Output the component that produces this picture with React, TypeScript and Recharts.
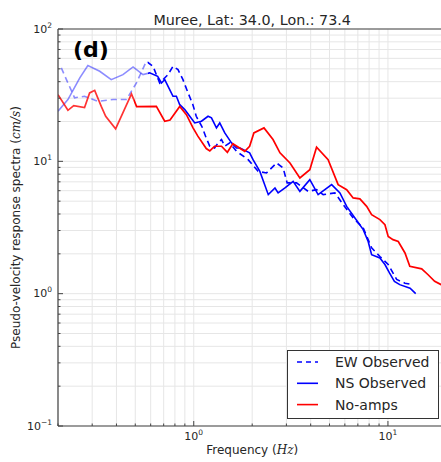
import React from "react";
import { LineChart, Line, XAxis, YAxis, CartesianGrid, Legend } from "recharts";

// EW Observed (dashed)
const ewFreq = [0.208, 0.225, 0.2435, 0.274, 0.321, 0.384, 0.45, 0.507, 0.57, 0.617, 0.668, 0.737, 0.782, 0.83, 0.88, 0.935, 0.99, 1.03, 1.1, 1.16, 1.21, 1.28, 1.335, 1.39, 1.445, 1.533, 1.66, 1.906, 2.145, 2.37, 2.669, 2.886, 3.027, 3.383, 3.883, 4.291, 4.641, 5.33, 5.886, 6.624, 7.46, 8.24, 9.09, 10.03, 11.09, 12.24, 13.5];
const ewAmp = [50.8, 39.1, 30.2, 31.0, 28.4, 29.3, 29.3, 39.1, 57.0, 52.3, 39.1, 45.2, 52.3, 49.3, 41.4, 32.9, 26.8, 21.9, 18.4, 15.0, 13.0, 12.6, 13.8, 14.6, 13.0, 13.8, 11.9, 10.3, 8.4, 8.17, 9.72, 8.92, 6.87, 6.87, 5.93, 6.11, 5.6, 5.77, 4.71, 3.73, 3.14, 2.22, 1.91, 1.66, 1.28, 1.2, 1.17];

// NS Observed
const nsFreq = [0.2, 0.225, 0.259, 0.285, 0.328, 0.376, 0.432, 0.487, 0.548, 0.593, 0.652, 0.682, 0.709, 0.752, 0.782, 0.814, 0.847, 0.899, 0.954, 1.012, 1.096, 1.185, 1.234, 1.309, 1.361, 1.445, 1.564, 1.66, 1.73, 1.94, 2.02, 2.19, 2.42, 2.62, 2.72, 2.95, 3.25, 3.52, 3.96, 4.37, 5.13, 5.66, 6.13, 6.76, 7.46, 7.91, 8.24, 9.09, 9.65, 10.2, 10.8, 11.5, 13.0, 13.9];
const nsAmp = [23.9, 29.3, 42.7, 52.9, 47.9, 41.4, 45.2, 51.7, 45.2, 46.6, 43.9, 39.1, 41.4, 34.8, 31.0, 31.0, 26.8, 24.6, 21.9, 19.5, 20.1, 21.9, 21.3, 17.9, 19.5, 16.4, 13.8, 12.6, 12.6, 11.6, 10.3, 8.4, 5.6, 6.29, 5.77, 6.29, 7.06, 5.93, 7.27, 5.6, 6.67, 5.77, 4.57, 3.73, 3.05, 2.48, 1.97, 1.86, 1.66, 1.43, 1.24, 1.17, 1.1, 1.0];

// No-amps
const noFreq = [0.2, 0.225, 0.241, 0.274, 0.291, 0.309, 0.334, 0.352, 0.396, 0.478, 0.508, 0.642, 0.709, 0.755, 0.847, 0.917, 0.99, 1.05, 1.16, 1.21, 1.28, 1.39, 1.49, 1.59, 1.83, 1.94, 2.04, 2.3, 2.56, 2.78, 3.13, 3.52, 3.96, 4.29, 4.92, 5.54, 6.13, 6.62, 7.17, 7.77, 8.24, 9.09, 9.65, 10.03, 10.62, 11.3, 12.24, 12.96, 14.92, 16.1, 17.4, 18.8, 20];
const noAmp = [31.9, 24.3, 26.4, 25.5, 32.9, 34.4, 26.0, 21.9, 17.6, 32.3, 25.9, 26.0, 20.1, 20.5, 26.0, 22.5, 18.0, 15.5, 12.5, 12.0, 13.0, 13.0, 11.7, 13.6, 11.9, 13.0, 16.4, 17.9, 14.6, 11.6, 9.72, 7.49, 8.65, 12.8, 10.3, 6.67, 6.11, 5.29, 5.2, 4.57, 3.95, 3.63, 3.32, 2.71, 2.56, 2.48, 2.03, 1.61, 1.54, 1.39, 1.24, 1.17, 1.1];

const xTicks = [0.2, 0.3, 0.4, 0.5, 0.6, 0.7, 0.8, 0.9, 1, 2, 3, 4, 5, 6, 7, 8, 9, 10, 20];
const yTicks = [0.1, 0.2, 0.3, 0.4, 0.5, 0.6, 0.7, 0.8, 0.9, 1, 2, 3, 4, 5, 6, 7, 8, 9, 10, 20, 30, 40, 50, 60, 70, 80, 90, 100];

const legendItems = [
  { name: "EW Observed", color: "#0000ff", dash: "5 4" },
  { name: "NS Observed", color: "#0000ff", dash: undefined },
  { name: "No-amps", color: "#ff0000", dash: undefined },
];

const X_MIN = 0.2;
const X_MAX = 20;
const PLOT_LEFT = 58;
const PLOT_RIGHT = 446.4;
const FONT = "'DejaVu Sans', sans-serif";
const TEXT = "#262626";
const SPINE = "#444";

const zip = (f: number[], v: number[]) => f.map((x, i) => ({ f: x, v: v[i] }));
const ewData = zip(ewFreq, ewAmp);
const nsData = zip(nsFreq, nsAmp);
const noData = zip(noFreq, noAmp);

const isMajor = (v: number) => Math.abs(Math.log10(v) - Math.round(Math.log10(v))) < 1e-9;
const expOf = (v: number) => {
  const e = Math.round(Math.log10(v));
  return e < 0 ? "\u2212" + Math.abs(e) : String(e);
};
const frac = (f: number) => (Math.log10(f) - Math.log10(X_MIN)) / (Math.log10(X_MAX) - Math.log10(X_MIN));

const XTick = (props: any) => {
  const { x, y, payload } = props;
  const major = isMajor(payload.value);
  return (
    <g>
      <line x1={x} x2={x} y1={y} y2={y - (major ? 5 : 2.5)} stroke={SPINE} />
      {major && (
        <text x={x} y={y + 14} textAnchor="middle" fontSize={11} fill={TEXT} fontFamily={FONT}>
          10<tspan dy={-5} fontSize={7.5}>{expOf(payload.value)}</tspan>
        </text>
      )}
    </g>
  );
};

const TopTick = (props: any) => {
  const { x, y, payload } = props;
  const major = isMajor(payload.value);
  return <line x1={x} x2={x} y1={y} y2={y + (major ? 5 : 2.5)} stroke={SPINE} />;
};

const YTick = (props: any) => {
  const { x, y, payload } = props;
  const major = isMajor(payload.value);
  return (
    <g>
      <line x1={x} x2={x + (major ? 5 : 2.5)} y1={y} y2={y} stroke={SPINE} />
      {major && (
        <text x={x - 6} y={y + 3.5} textAnchor="end" fontSize={11} fill={TEXT} fontFamily={FONT}>
          10<tspan dy={-5} fontSize={7.5}>{expOf(payload.value)}</tspan>
        </text>
      )}
    </g>
  );
};

const renderLegend = () => (
  <svg width={152} height={69}>
    <rect x={0.5} y={0.5} width={151} height={68} fill="#fff" stroke="#333" />
    {legendItems.map((it, i) => (
      <g key={it.name}>
        <line x1={10} x2={31} y1={12 + i * 21.3} y2={12 + i * 21.3} stroke={it.color} strokeWidth={1.6} strokeDasharray={it.dash} />
        <text x={48} y={17 + i * 21.3} fontSize={14} fill={TEXT} fontFamily={FONT}>{it.name}</text>
      </g>
    ))}
  </svg>
);

export default function App() {
  const blueCut = frac(0.58);
  const redCut = frac(0.49);
  return (
    <div style={{ position: "absolute", left: 0, top: 0, width: 441, height: 462, overflow: "hidden", background: "#fff" }}>
      <LineChart width={460} height={462} margin={{ top: 28, right: 460 - PLOT_RIGHT, bottom: 0, left: 0 }}>
        <defs>
          <linearGradient id="blueFade" gradientUnits="userSpaceOnUse" x1={PLOT_LEFT} x2={PLOT_RIGHT} y1={0} y2={0}>
            <stop offset={0} stopColor="#0000ff" stopOpacity={0.45} />
            <stop offset={blueCut} stopColor="#0000ff" stopOpacity={0.45} />
            <stop offset={blueCut} stopColor="#0000ff" stopOpacity={1} />
            <stop offset={1} stopColor="#0000ff" stopOpacity={1} />
          </linearGradient>
          <linearGradient id="redFade" gradientUnits="userSpaceOnUse" x1={PLOT_LEFT} x2={PLOT_RIGHT} y1={0} y2={0}>
            <stop offset={0} stopColor="#ff0000" stopOpacity={0.8} />
            <stop offset={redCut} stopColor="#ff0000" stopOpacity={0.8} />
            <stop offset={redCut} stopColor="#ff0000" stopOpacity={1} />
            <stop offset={1} stopColor="#ff0000" stopOpacity={1} />
          </linearGradient>
        </defs>
        <CartesianGrid stroke="#e6e6e6" strokeWidth={1} />
        <XAxis
          dataKey="f"
          type="number"
          scale="log"
          domain={[X_MIN, X_MAX]}
          ticks={xTicks}
          interval={0}
          allowDataOverflow
          height={36}
          tickSize={0}
          tickMargin={0}
          tick={<XTick />}
          axisLine={{ stroke: SPINE, strokeWidth: 1.2 }}
          label={{
            content: (p: any) => {
              const vb = p.viewBox;
              return (
                <text x={vb.x + vb.width / 2} y={454} textAnchor="middle" fontSize={12} fill={TEXT} fontFamily={FONT}>
                  Frequency (<tspan fontStyle="italic" fontFamily="'DejaVu Serif', serif">Hz</tspan>)
                </text>
              );
            },
          }}
        />
        <XAxis
          xAxisId="top"
          orientation="top"
          type="number"
          scale="log"
          domain={[X_MIN, X_MAX]}
          ticks={xTicks}
          interval={0}
          allowDataOverflow
          height={1}
          tickSize={0}
          tickMargin={0}
          tick={<TopTick />}
          axisLine={{ stroke: SPINE, strokeWidth: 1.2 }}
          label={{
            content: (p: any) => {
              const vb = p.viewBox;
              return (
                <text x={vb.x + vb.width / 2} y={25} textAnchor="middle" fontSize={14.3} fill={TEXT} fontFamily={FONT}>
                  Muree, Lat: 34.0, Lon.: 73.4
                </text>
              );
            },
          }}
        />
        <YAxis
          type="number"
          scale="log"
          domain={[0.1, 100]}
          ticks={yTicks}
          interval={0}
          allowDataOverflow
          width={58}
          tickSize={0}
          tickMargin={0}
          tick={<YTick />}
          axisLine={{ stroke: SPINE, strokeWidth: 1.2 }}
          label={{
            content: (p: any) => {
              const vb = p.viewBox;
              const cy = vb.y + vb.height / 2;
              return (
                <text x={16} y={cy} transform={`rotate(-90, 16, ${cy})`} textAnchor="middle" dominantBaseline="central" fontSize={12} fill={TEXT} fontFamily={FONT}>
                  Pseudo-velocity response spectra (<tspan fontStyle="italic" fontFamily="'DejaVu Serif', serif">cm/s</tspan>)
                </text>
              );
            },
          }}
        />
        <Line data={ewData} dataKey="v" name="EW Observed" type="linear" stroke="url(#blueFade)" strokeWidth={1.6} strokeDasharray="6 4" dot={false} isAnimationActive={false} />
        <Line data={nsData} dataKey="v" name="NS Observed" type="linear" stroke="url(#blueFade)" strokeWidth={1.6} dot={false} isAnimationActive={false} />
        <Line data={noData} dataKey="v" name="No-amps" type="linear" stroke="url(#redFade)" strokeWidth={1.7} dot={false} isAnimationActive={false} />
        <text x={73} y={57} fontSize={22} fontWeight="bold" fill="#000" fontFamily={FONT}>(d)</text>
        <Legend
          content={renderLegend}
          layout="vertical"
          align="center"
          verticalAlign="middle"
          wrapperStyle={{ left: 287, top: 350, width: 152, height: 69 }}
        />
      </LineChart>
    </div>
  );
}
